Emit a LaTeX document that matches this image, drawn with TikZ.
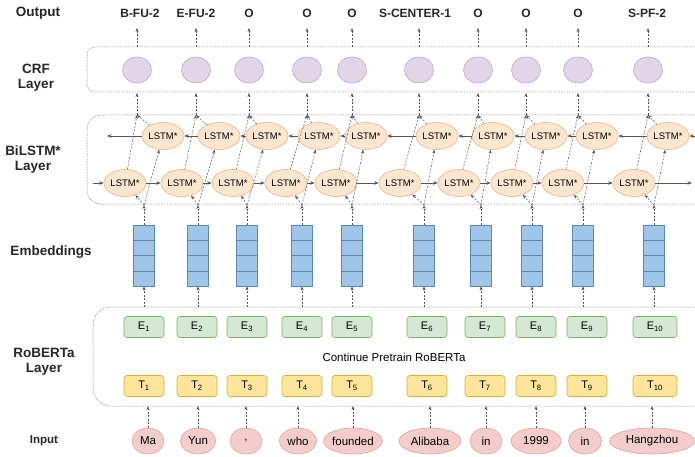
\documentclass[tikz,border=0pt]{standalone}
\usepackage{fontspec}
\setmainfont{Liberation Sans}
\usetikzlibrary{arrows.meta,shapes.geometric,calc}
\definecolor{crfF}{HTML}{E1D5E7}\definecolor{crfD}{HTML}{BFA3CF}
\definecolor{lsF}{HTML}{FDE6CF}\definecolor{lsD}{HTML}{F2B07C}
\definecolor{emF}{HTML}{9FC5E8}\definecolor{emD}{HTML}{5D87B3}
\definecolor{eF}{HTML}{D5E8D4}\definecolor{eD}{HTML}{7FAE62}
\definecolor{tF}{HTML}{FFE599}\definecolor{tD}{HTML}{D6AE3C}
\definecolor{inF}{HTML}{F4CCCC}\definecolor{inD}{HTML}{DBA3A3}
\definecolor{ln}{HTML}{555555}
\begin{document}
\begin{tikzpicture}[x=1pt,y=-1pt,
  lab/.style={font=\fontsize{13.5}{15}\selectfont\bfseries, align=center, text=black!85},
  outlab/.style={font=\fontsize{12}{14}\selectfont\bfseries, text=black!85},
  crfnode/.style={ellipse, draw=crfD, fill=crfF, minimum width=29pt, minimum height=26pt, inner sep=0pt, line width=0.6pt},
  lstm/.style={ellipse, draw=lsD, fill=lsF, minimum width=42pt, minimum height=27pt, inner sep=0pt, font=\fontsize{9.5}{11}\selectfont, line width=0.6pt},
  embbox/.style={rectangle, draw=emD, fill=emF, minimum width=21pt, minimum height=61pt, inner sep=0pt, line width=0.8pt},
  ebox/.style={rectangle, rounded corners=3pt, draw=eD, fill=eF, minimum height=21pt, inner sep=0pt, font=\fontsize{11}{13}\selectfont, line width=0.6pt},
  tbox/.style={rectangle, rounded corners=3pt, draw=tD, fill=tF, minimum height=21pt, inner sep=0pt, font=\fontsize{11}{13}\selectfont, line width=0.6pt},
  inp/.style={ellipse, draw=inD, fill=inF, minimum height=26pt, inner sep=0pt, font=\fontsize{11.5}{13}\selectfont, line width=0.6pt},
  container/.style={draw=black!50, dash pattern=on 1.5pt off 1.2pt, line width=0.5pt},
  darr/.style={draw=ln, dash pattern=on 2pt off 1.5pt, line width=0.5pt, -{Stealth[length=4pt,width=3pt]}},
  sarr/.style={draw=ln, line width=0.6pt, -{Stealth[length=4.5pt,width=3.5pt]}},
]
\useasboundingbox (0,0) rectangle (695,457);
\clip (0,0) rectangle (695,457);

% layer labels
\node[lab] (lOut) at (38,13) {Output};
\node[lab] (lCrf) at (36,78) {CRF\\Layer};
\node[lab] (lBil) at (33,160) {BiLSTM*\\Layer};
\node[lab] (lEmb) at (51,252) {Embeddings};
\node[lab] (lRob) at (44,362) {RoBERTa\\Layer};
\node[lab, font=\fontsize{11.5}{13}\selectfont\bfseries] (lIn) at (44,441) {Input};

% containers
\draw[container, rounded corners=8pt] (87,47) rectangle (730,92);
\draw[container, rounded corners=14pt] (87,115) rectangle (730,204);
\draw[container, rounded corners=18pt] (93,307) rectangle (730,406);

\coordinate (outA) at (0,28);
\coordinate (crfT) at (0,47);
\coordinate (crfB) at (0,93);
\coordinate (bilT) at (0,115);
\coordinate (bilB) at (0,205);
\coordinate (rbT) at (0,307);
\coordinate (rbB) at (0,406);

\node (cpt) at (394,357) {\fontsize{11.5}{13}\selectfont Continue Pretrain RoBERTa};

% output labels
\foreach \i/\x/\t in {1/140/B-FU-2,2/196/E-FU-2,3/249/O,4/307/O,5/352/O,6/415/S-CENTER-1,7/478/O,8/526/O,9/578/O,10/647/S-PF-2}
  \node[outlab] (out\i) at (\x,13) {\t};

% columns
\foreach \i/\c/\b/\f/\m/\e/\w in {1/137/163/125/144/144/40,2/196/219/182/198/197/40,3/249/267/233/247/247/40,4/307/319/286/302/302/40,5/352/366/336/352/352/40,6/419/437/400/424/427/40,7/478/493/459/481/485/40,8/526/546/512/532/536/40,9/578/597/563/583/587/40,10/648/668/634/654/655/44}{
  \node[crfnode] (crf\i) at (\c,70) {};
  \node[lstm] (b\i) at (\b,136) {LSTM*};
  \node[lstm] (f\i) at (\f,183) {LSTM*};
  \node[embbox] (emb\i) at (\m,255.5) {};
  \draw[emD, line width=0.8pt] ($(emb\i.north west)!0.25!(emb\i.south west)$) -- ($(emb\i.north east)!0.25!(emb\i.south east)$);
  \draw[emD, line width=0.8pt] ($(emb\i.north west)!0.5!(emb\i.south west)$) -- ($(emb\i.north east)!0.5!(emb\i.south east)$);
  \draw[emD, line width=0.8pt] ($(emb\i.north west)!0.75!(emb\i.south west)$) -- ($(emb\i.north east)!0.75!(emb\i.south east)$);
  \node[ebox, minimum width=\w pt] (e\i) at (\e,327) {E\textsubscript{\i}};
  \node[tbox, minimum width=\w pt] (t\i) at (\e,386) {T\textsubscript{\i}};
}

% inputs
\foreach \i/\x/\w/\t in {1/148/32/Ma,2/198/35/Yun,3/246/32/{,},4/298/37/who,5/353/57/founded,6/430/62/Alibaba,7/486/32/in,8/536/50/1999,9/585/33/in,10/652/85/Hangzhou}
  \node[inp, minimum width=\w pt] (in\i) at (\x,441) {\t};

% connectors
\foreach \i in {1,...,10}{
  \coordinate (B\i) at (emb\i.north |- bilB);
  \coordinate (T\i) at (crf\i |- bilT);
  \draw[darr] (crf\i |- crfT) -- (crf\i |- outA);
  \draw[darr] (T\i) -- (crf\i |- crfB);
  \draw[darr] (f\i) -- (T\i);
  \draw[darr] (b\i) -- (T\i);
  \draw[darr] (B\i) -- (f\i);
  \draw[darr] (B\i) -- (b\i);
  \draw[darr] (emb\i.north) -- (B\i);
  \draw[darr] (emb\i.south |- rbT) -- (emb\i.south);
  \draw[darr] (in\i.north) -- (in\i.north |- rbB);
}

% horizontal LSTM arrows
\coordinate (fL) at (93,183);
\coordinate (fR) at (692,183);
\coordinate (bR) at (705,136);
\coordinate (bL) at (107,136);
\draw[sarr] (fL) -- (f1);
\draw[sarr] (f10) -- (fR);
\draw[sarr] (bR) -- (b10);
\draw[sarr] (b1) -- (bL);
\foreach \i/\j in {1/2,2/3,3/4,4/5,5/6,6/7,7/8,8/9,9/10}{
  \draw[sarr] (f\i) -- (f\j);
  \draw[sarr] (b\j) -- (b\i);
}
\end{tikzpicture}
\end{document}
